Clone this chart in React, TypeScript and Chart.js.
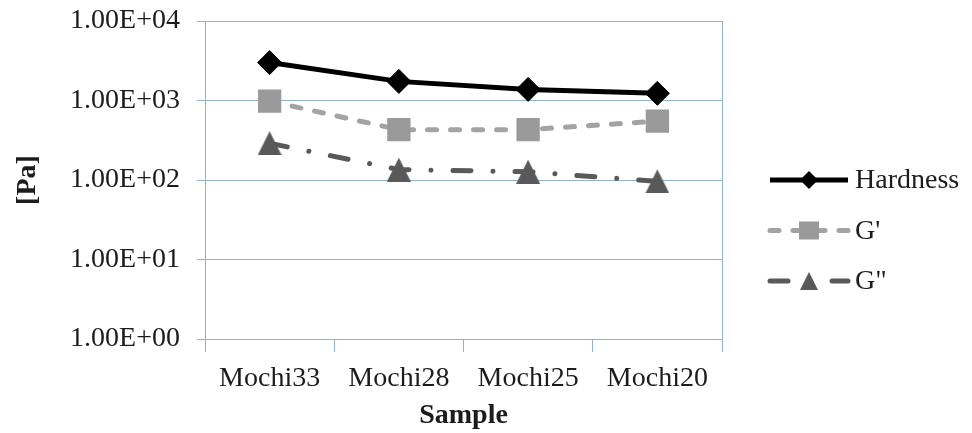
import React, { useEffect, useRef } from 'react';
import { Chart, registerables } from 'chart.js';

Chart.register(...registerables);

// ---- data ----
const categories = ['Mochi33', 'Mochi28', 'Mochi25', 'Mochi20'];
const hardness = [3000, 1740, 1380, 1230];
const gPrime = [980, 430, 430, 550];
const gDoublePrime = [290, 135, 127, 96];
const seriesNames = ['Hardness', "G'", 'G"'];
const yTickValues = [1, 10, 100, 1000, 10000];
const yTickLabels = ['1.00E+00', '1.00E+01', '1.00E+02', '1.00E+03', '1.00E+04'];

// ---- styles ----
const FONT = "'Liberation Serif', 'Times New Roman', serif";
const GRID = '#8fb3c7';
const TEXT = '#1c1c1c';

function makeTriangle(w: number, h: number, color: string): HTMLCanvasElement {
  const c = document.createElement('canvas');
  c.width = w;
  c.height = h;
  const g = c.getContext('2d')!;
  g.fillStyle = color;
  g.beginPath();
  g.moveTo(w / 2, 0);
  g.lineTo(w, h);
  g.lineTo(0, h);
  g.closePath();
  g.fill();
  return c;
}

const plotBorder = {
  id: 'plotBorder',
  beforeDatasetsDraw(chart: any) {
    const { ctx, chartArea: a } = chart;
    ctx.save();
    ctx.strokeStyle = GRID;
    ctx.lineWidth = 1;
    ctx.strokeRect(Math.round(a.left) + 0.5, Math.round(a.top) + 0.5, Math.round(a.right - a.left), Math.round(a.bottom - a.top));
    ctx.restore();
  },
};

const customLegend = {
  id: 'customLegend',
  afterDraw(chart: any) {
    const { ctx, chartArea: a } = chart;
    const x1 = a.right + 48;
    const x2 = a.right + 126;
    const xm = (x1 + x2) / 2;
    const mid = (a.top + a.bottom) / 2;
    chart.data.datasets.forEach((ds: any, i: number) => {
      const y = mid + i * 50.5;
      ctx.save();
      ctx.strokeStyle = ds.borderColor;
      ctx.lineWidth = ds.borderWidth;
      ctx.lineCap = ds.borderCapStyle || 'butt';
      ctx.setLineDash(ds.borderDash || []);
      ctx.beginPath();
      ctx.moveTo(x1, y);
      ctx.lineTo(x2, y);
      ctx.stroke();
      ctx.setLineDash([]);
      ctx.fillStyle = ds.pointBackgroundColor;
      if (i === 0) {
        const r = 9;
        ctx.beginPath();
        ctx.moveTo(xm, y - r);
        ctx.lineTo(xm + r, y);
        ctx.lineTo(xm, y + r);
        ctx.lineTo(xm - r, y);
        ctx.closePath();
        ctx.fill();
      } else if (i === 1) {
        ctx.fillRect(xm - 10, y - 9, 20, 18);
      } else {
        ctx.beginPath();
        ctx.moveTo(xm, y - 9);
        ctx.lineTo(xm + 9, y + 9);
        ctx.lineTo(xm - 9, y + 9);
        ctx.closePath();
        ctx.fill();
      }
      ctx.fillStyle = TEXT;
      ctx.font = `28px ${FONT}`;
      ctx.textAlign = 'left';
      ctx.textBaseline = 'middle';
      ctx.fillText(seriesNames[i], x2 + 7, y + 1);
      ctx.restore();
    });
  },
};

export default function App() {
  const ref = useRef<HTMLCanvasElement | null>(null);

  useEffect(() => {
    if (!ref.current) return;
    const tri = makeTriangle(24, 24, '#595959');
    const chart = new Chart(ref.current, {
      type: 'line',
      data: {
        labels: categories,
        datasets: [
          {
            label: seriesNames[0],
            data: hardness,
            borderColor: '#000000',
            borderWidth: 5,
            pointStyle: 'rectRot',
            pointRadius: 12,
            pointBackgroundColor: '#000000',
            pointBorderColor: '#000000',
            pointBorderWidth: 1,
            tension: 0,
          },
          {
            label: seriesNames[1],
            data: gPrime,
            borderColor: '#a3a3a3',
            borderWidth: 5,
            borderDash: [9, 14],
            borderCapStyle: 'round',
            pointStyle: 'rect',
            pointRadius: 16.5,
            pointBackgroundColor: '#9a9a9a',
            pointBorderColor: '#9a9a9a',
            pointBorderWidth: 0,
            tension: 0,
          },
          {
            label: seriesNames[2],
            data: gDoublePrime,
            borderColor: '#595959',
            borderWidth: 5,
            borderDash: [18, 22, 0.01, 22],
            borderCapStyle: 'round',
            pointStyle: tri as any,
            pointRadius: 12,
            pointBackgroundColor: '#595959',
            pointBorderColor: '#595959',
            tension: 0,
          },
        ],
      },
      options: {
        responsive: false,
        animation: false,
        devicePixelRatio: 1,
        layout: { padding: { left: 0, right: 250, top: 21, bottom: 0 } },
        plugins: {
          legend: { display: false },
          tooltip: { enabled: false },
        },
        scales: {
          x: {
            type: 'category',
            offset: true,
            grid: { offset: true, drawOnChartArea: false, drawTicks: true, tickLength: 13, color: GRID },
            border: { display: true, color: GRID },
            ticks: {
              color: TEXT,
              font: { family: FONT, size: 28 },
              padding: 10,
              autoSkip: false,
              maxRotation: 0,
            },
            title: {
              display: true,
              text: 'Sample',
              color: TEXT,
              font: { family: FONT, size: 28, weight: 'bold' },
              padding: { top: 0, bottom: 0 },
            },
            afterFit: (s: any) => {
              s.height = 94;
              s.paddingLeft = 0;
              s.paddingRight = 0;
            },
          },
          y: {
            type: 'logarithmic',
            min: 1,
            max: 10000,
            afterBuildTicks: (s: any) => {
              s.ticks = yTickValues.map((v) => ({ value: v }));
            },
            ticks: {
              color: TEXT,
              font: { family: FONT, size: 28 },
              padding: 17,
              callback: (_v: any, i: number) => yTickLabels[i],
            },
            grid: { color: GRID, tickLength: 8, drawTicks: true },
            border: { display: true, color: GRID },
            title: {
              display: true,
              text: '[Pa]',
              color: TEXT,
              font: { family: FONT, size: 28, weight: 'bold' },
              padding: { top: 11, bottom: 0 },
            },
            afterFit: (s: any) => {
              s.width = 205;
              s.paddingTop = 0;
              s.paddingBottom = 0;
            },
          },
        },
      },
      plugins: [plotBorder, customLegend],
    });
    return () => chart.destroy();
  }, []);

  return (
    <div style={{ position: 'fixed', left: 0, top: 0, width: 972, height: 433, background: '#ffffff' }}>
      <canvas ref={ref} width={972} height={433} />
    </div>
  );
}
